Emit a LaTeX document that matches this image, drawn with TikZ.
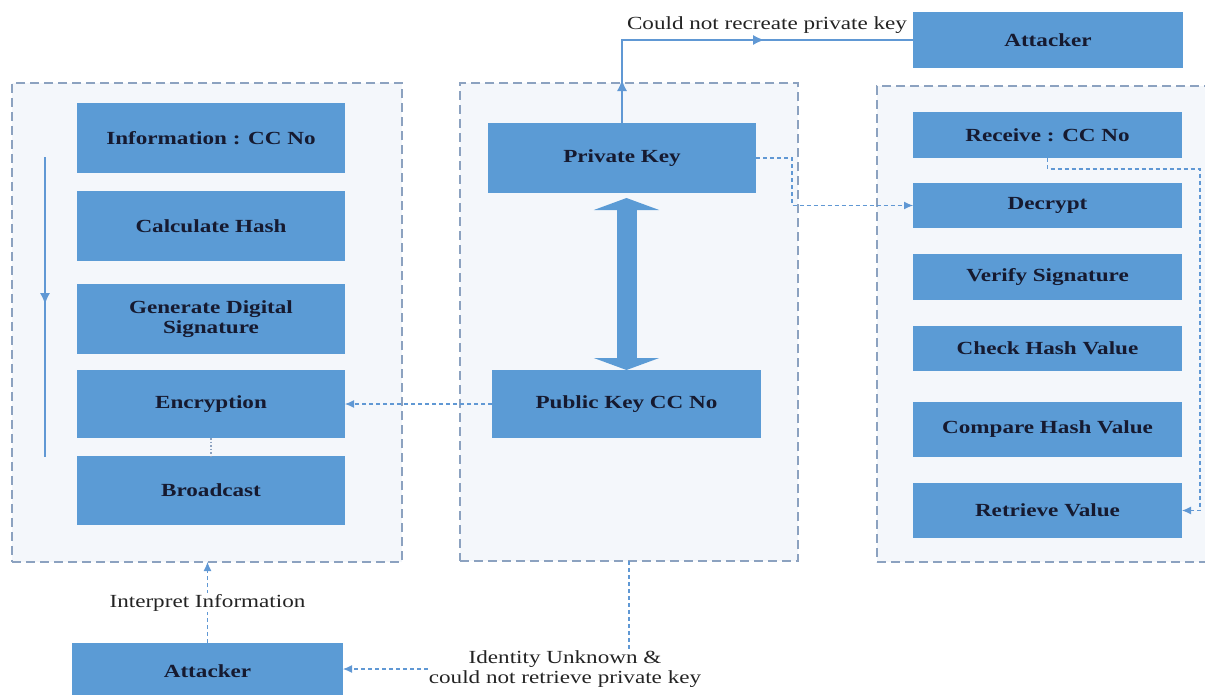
\documentclass[tikz,border=0pt]{standalone}
\usepackage{fontspec}
\setmainfont{Liberation Serif}[FakeStretch=1.25]
\usetikzlibrary{arrows.meta,decorations.markings}

\definecolor{boxblue}{RGB}{91,155,213}
\definecolor{txtnavy}{RGB}{22,26,48}
\definecolor{frameline}{RGB}{140,162,192}
\definecolor{framefill}{RGB}{244,247,251}
\definecolor{linkblue}{RGB}{96,152,212}
\definecolor{labeltxt}{RGB}{35,35,35}

\tikzset{
  panel/.style={draw=frameline, line width=1.3pt, dash pattern=on 9pt off 5pt,
    fill=framefill, anchor=north west, inner sep=0pt, outer sep=0pt},
  blk/.style 2 args={fill=boxblue, text=txtnavy, inner sep=0pt, outer sep=0pt,
    font=\bfseries\fontsize{18.5}{20}\selectfont, align=center,
    minimum width=#1, minimum height=#2},
  note/.style={text=labeltxt, font=\fontsize{18.5}{20}\selectfont, align=center, inner sep=1pt},
  tip/.style={-{Latex[length=9pt,width=8pt]}},
  solidlink/.style={draw=linkblue, line width=1.4pt},
  dashlink/.style={draw=linkblue, line width=1.1pt, dash pattern=on 4pt off 3pt},
  dotlink/.style={draw=frameline, line width=1.1pt, dash pattern=on 1.5pt off 2pt},
  bigtip/.style={linkblue, solid, line width=1pt},
  midtip/.style={postaction={decorate}, decoration={markings,
    mark=at position #1 with {\arrow[bigtip]{Latex[length=11pt,width=10pt]}}}},
}

\begin{document}
\begin{tikzpicture}[x=1pt,y=-1pt]
\useasboundingbox (0,0) rectangle (1205,694);

% dashed group frames
\node[panel, minimum width=390pt, minimum height=479pt] (lpanel) at (12,83) {};
\node[panel, minimum width=338pt, minimum height=478pt] (mpanel) at (460,83) {};
\node[panel, minimum width=329pt, minimum height=476pt] (rpanel) at (877,86) {};

% sender steps
\node[blk={268pt}{70pt}] (info) at (211,138) {Information : CC No};
\node[blk={268pt}{70pt}] (hash) at (211,226) {Calculate Hash};
\node[blk={268pt}{70pt}] (sig)  at (211,319) {Generate Digital\\Signature};
\node[blk={268pt}{68pt}] (enc)  at (211,404) {Encryption};
\node[blk={268pt}{69pt}] (bc)   at (211,490.5) {Broadcast};

% key pair
\node[blk={268pt}{70pt}] (pk)  at (622,158) {Private Key};
\node[blk={269pt}{68pt}] (pub) at (626.5,404) {Public Key CC No};

% receiver steps
\node[blk={269pt}{46pt}] (rec) at (1047.5,135) {Receive : CC No};
\node[blk={269pt}{45pt}] (dec) at (1047.5,205.5) {Decrypt};
\node[blk={269pt}{46pt}] (ver) at (1047.5,277) {Verify Signature};
\node[blk={269pt}{45pt}] (chk) at (1047.5,348.5) {Check Hash Value};
\node[blk={269pt}{55pt}] (cmp) at (1047.5,429.5) {Compare Hash Value};
\node[blk={269pt}{55pt}] (ret) at (1047.5,510.5) {Retrieve Value};

% attackers
\node[blk={270pt}{56pt}] (atk)  at (1048,40) {Attacker};
\node[blk={271pt}{56pt}] (atk2) at (207.5,671) {Attacker};

% labels
\node[note] (recreate) at (767,25) {Could not recreate private key};
\node[note] (idtxt) at (565,669) {Identity Unknown \&\\could not retrieve private key};

% sender flow direction
\coordinate (flowtop) at (45,157);
\coordinate (flowbot) at (45,457);
\draw[solidlink, midtip=0.49] (flowtop) -- (flowbot);

% private key exposed to the attacker
\coordinate (pkup) at (pk.north |- atk.west);
\draw[solidlink, postaction={decorate}, decoration={markings,
    mark=at position 43pt with {\arrow[bigtip]{Latex[length=11pt,width=10pt]}},
    mark=at position 225pt with {\arrow[bigtip]{Latex[length=11pt,width=10pt]}}}]
  (pk.north) -- (pkup) -- (atk.west);

% key pair relation
\draw[boxblue, line width=20pt,
  {Triangle[length=12pt,width=65pt]}-{Triangle[length=12pt,width=65pt]},
  shorten <=5pt]
  (pk.south -| pub.north) -- (pub.north);

% key links
\draw[dashlink, tip] (pk.east) -- ++(36,0) |- (dec.west);
\draw[dashlink, tip] (pub.west) -- (enc.east);
\draw[dotlink] (enc.south) -- (bc.north);

% receiver shortcut
\coordinate (rr) at (1200,169);
\draw[dashlink, tip] (rec.south) |- (rr) |- (ret.east);

% attacker at the bottom
\draw[dashlink, tip] (atk2.north) -- node[note, fill=white, pos=0.5] (interp) {Interpret Information}
  (atk2.north |- lpanel.south);
\draw[dashlink] (mpanel.south) -- (mpanel.south |- idtxt.north);
\draw[dashlink, tip] (idtxt.west) -- (idtxt.west -| atk2.east);
\end{tikzpicture}
\end{document}
